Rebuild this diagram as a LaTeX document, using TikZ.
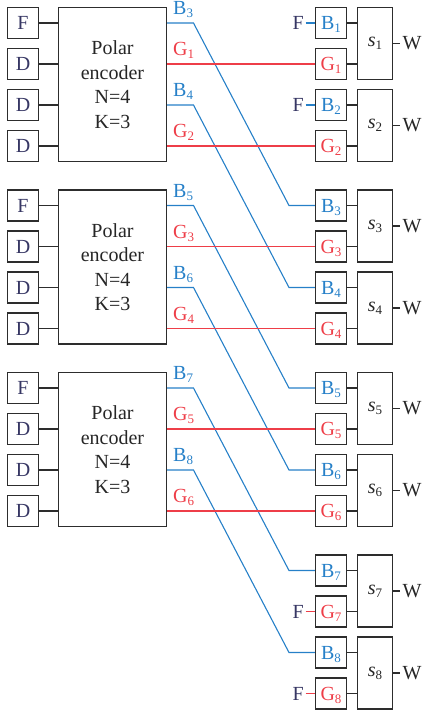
\documentclass[tikz,border=0pt]{standalone}
\usepackage{fontspec}
\setmainfont{Liberation Serif}
\usetikzlibrary{calc}
\definecolor{cblue}{RGB}{38,128,200}
\definecolor{cred}{RGB}{238,62,72}
\definecolor{cnavy}{RGB}{55,55,100}
\definecolor{cline}{RGB}{45,45,45}
\newcommand\subs[1]{\smash{\raisebox{-3pt}{\fontsize{13}{13}\selectfont #1}}}
\newcommand\subt[1]{\raisebox{-3pt}{\fontsize{13}{13}\selectfont #1}}
\tikzset{
  sqbox/.style={draw=cline, line width=1.3pt, minimum width=31pt, minimum height=31pt, inner sep=0pt, font=\fontsize{20}{24}\selectfont},
  encbox/.style={draw=cline, line width=1.3pt, minimum width=108pt, minimum height=154pt, inner sep=0pt, align=center, font=\fontsize{20}{24.5}\selectfont, text=black!85},
  spbox/.style={draw=cline, line width=1.3pt, minimum width=35pt, minimum height=72pt, inner sep=0pt, font=\fontsize{20}{24}\selectfont, text=black!85},
  conn/.style={draw=cline, line width=1.3pt},
  bline/.style={draw=cblue, line width=1.1pt},
  rline/.style={draw=cred, line width=1.4pt},
  lab/.style={inner sep=0pt, font=\fontsize{20}{24}\selectfont},
}
\begin{document}
\begin{tikzpicture}[x=1pt,y=-1pt]
\useasboundingbox (0,0) rectangle (422,713);
% left side: encoders
\foreach \g in {0,1,2}{
  \pgfmathsetmacro\yo{182.5*\g}
  \node[encbox] (enc\g) at (112.5, 84.5+\yo) {Polar\\encoder\\N=4\\K=3};
  \foreach \i/\t in {0/F,1/D,2/D,3/D}{
    \node[sqbox, text=cnavy] (in\g\i) at (23, 23+41*\i+\yo) {\t};
    \draw[conn] (in\g\i.east) -- (in\g\i.east -| enc\g.west);
    \coordinate (o\g\i) at (167, 23+41*\i+\yo);
  }
}
% right side: pairs
\foreach \p in {1,...,8}{
  \pgfmathsetmacro\ty{7+82*mod(\p-1,2)+182.5*floor((\p-1)/2)}
  \node[sqbox, text=cblue] (B\p) at (331, \ty+16) {B\subs{\p}};
  \node[sqbox, text=cred] (G\p) at (331, \ty+57) {G\subs{\p}};
  \node[spbox] (s\p) at (375, \ty+36.5) {\textit{s}\subt{\p}};
  \draw[conn] (B\p.east) -- (B\p.east -| s\p.west);
  \draw[conn] (G\p.east) -- (G\p.east -| s\p.west);
  \node[lab, anchor=west, inner xsep=3pt, text=black!85] (W\p) at (399.5, \ty+36.5) {W};
  \draw[conn] (s\p.east) -- (W\p.west);
}
% F inputs on the right
\foreach \p in {1,2}{
  \node[lab, anchor=east, inner xsep=1.5pt, text=cnavy] (FB\p) at (305.5, 0 |- B\p) {F};
  \draw[bline] (FB\p.east) -- (B\p.west);
}
\foreach \p in {7,8}{
  \node[lab, anchor=east, inner xsep=1.5pt, text=cnavy] (FG\p) at (305.5, 0 |- G\p) {F};
  \draw[rline] (FG\p.east) -- (G\p.west);
}
% blue crossing lines and labels
\foreach \g/\i/\k in {0/0/3,0/2/4,1/0/5,1/2/6,2/0/7,2/2/8}{
  \node[lab, anchor=base west, text=cblue] (lB\k) at ($(o\g\i)+(6,-8.5)$) {B\subs{\k}};
  \coordinate (bl\k) at ($(o\g\i)+(26.5,0)$);
  \coordinate (br\k) at (289, 0 |- B\k);
  \draw[bline] (o\g\i) -- (bl\k) -- (br\k) -- (B\k.west);
}
% red straight lines and labels
\foreach \g/\i/\k in {0/1/1,0/3/2,1/1/3,1/3/4,2/1/5,2/3/6}{
  \node[lab, anchor=base west, text=cred] (lG\k) at ($(o\g\i)+(6,-8.5)$) {G\subs{\k}};
  \draw[rline] (o\g\i) -- (G\k.west);
}
\end{tikzpicture}
\end{document}
